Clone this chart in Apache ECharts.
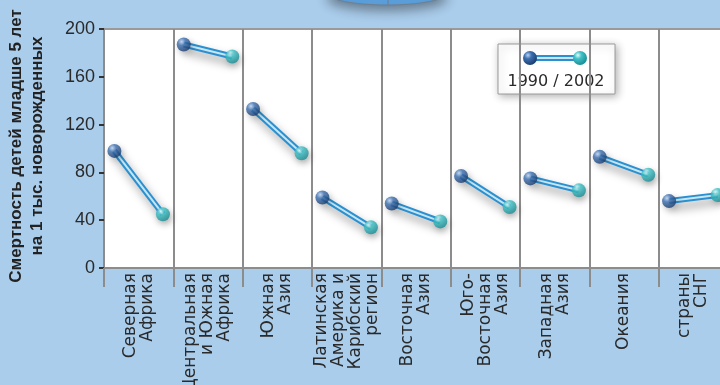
<!DOCTYPE html>
<html>
<head>
<meta charset="utf-8">
<script src="https://cdn.jsdelivr.net/npm/echarts@6/dist/echarts.min.js"></script>
<style>
  html, body { margin: 0; padding: 0; background: #aacdec; }
  #chart { width: 720px; height: 385px; }
</style>
</head>
<body>
<div id="chart"></div>
<script>
// регионы
var categories = [
    'Северная\nАфрика',
    'Центральная\nи Южная\nАфрика',
    'Южная\nАзия',
    'Латинская\nАмерика и\nКарибский\nрегион',
    'Восточная\nАзия',
    'Юго-\nВосточная\nАзия',
    'Западная\nАзия',
    'Океания',
    'страны\nСНГ'
];
// смертность детей младше 5 лет, на 1 тыс. новорожденных
var values1990 = [98, 187, 133, 59, 54, 77, 75, 93, 56];
var values2002 = [45, 177, 96, 34, 39, 51, 65, 78, 61];
var yTicks = [0, 40, 80, 120, 160, 200];

(function(){

    var chart = echarts.init(document.getElementById('chart'));

    var grey = '#8c8c8c';
    var textColor = '#2a2a2a';

    // положение точек внутри столбца региона
    var off1990 = 0.15, off2002 = 0.85;

    var segs = [], pts1990 = [], pts2002 = [];
    for (var i = 0; i < categories.length; i++) {
        segs.push({coords: [[i + off1990, values1990[i]], [i + off2002, values2002[i]]]});
        pts1990.push([i + off1990, values1990[i]]);
        pts2002.push([i + off2002, values2002[i]]);
    }

    var ball1990 = new echarts.graphic.RadialGradient(0.35, 0.3, 0.75, [
        {offset: 0, color: '#b9d3f0'},
        {offset: 0.35, color: '#3d6fb0'},
        {offset: 1, color: '#183a6c'}
    ]);
    var ball2002 = new echarts.graphic.RadialGradient(0.35, 0.3, 0.75, [
        {offset: 0, color: '#e6fbfb'},
        {offset: 0.35, color: '#3fc2c6'},
        {offset: 1, color: '#178a93'}
    ]);

    option = {
        backgroundColor: '#aacdec',
        animation: false,
        grid: {
            left: 104,
            top: 29,
            width: 624,
            height: 239,
            outerBoundsMode: 'none',
            show: true,
            backgroundColor: '#ffffff',
            borderColor: '#9a9a9a',
            borderWidth: 2
        },
        xAxis: [
            {
                type: 'category',
                data: categories,
                boundaryGap: true,
                axisLine: {lineStyle: {color: grey, width: 2}},
                axisTick: {show: true, interval: 0, length: 19, lineStyle: {color: grey, width: 2}},
                splitLine: {show: true, interval: 0, lineStyle: {color: grey, width: 2}},
                axisLabel: {
                    interval: 0,
                    rotate: 90,
                    margin: 5,
                    fontSize: 17,
                    lineHeight: 17,
                    fontFamily: 'DejaVu Sans',
                    color: textColor
                }
            },
            {
                type: 'value',
                min: 0,
                max: categories.length,
                show: false
            }
        ],
        yAxis: {
            type: 'value',
            min: yTicks[0],
            max: yTicks[yTicks.length - 1],
            interval: 40,
            axisLine: {show: true, lineStyle: {color: grey, width: 2}},
            axisTick: {show: true, length: 5, lineStyle: {color: '#333', width: 2}},
            splitLine: {show: false},
            axisLabel: {
                fontSize: 18,
                margin: 9,
                fontFamily: 'Liberation Sans',
                color: textColor
            }
        },
        series: [
            {
                type: 'lines',
                coordinateSystem: 'cartesian2d',
                xAxisIndex: 1,
                data: segs,
                lineStyle: {
                    color: '#2a90d0',
                    width: 6,
                    opacity: 1,
                    shadowColor: 'rgba(0,0,0,0.35)',
                    shadowBlur: 10,
                    shadowOffsetX: 3,
                    shadowOffsetY: 6
                },
                z: 2
            },
            {
                type: 'lines',
                coordinateSystem: 'cartesian2d',
                xAxisIndex: 1,
                data: segs,
                lineStyle: {color: '#c6e6f6', width: 2, opacity: 1},
                z: 3
            },
            {
                type: 'scatter',
                xAxisIndex: 1,
                data: pts1990,
                symbolSize: 14,
                itemStyle: {
                    color: ball1990,
                    shadowColor: 'rgba(0,0,0,0.3)',
                    shadowBlur: 6,
                    shadowOffsetX: 2,
                    shadowOffsetY: 3
                },
                z: 4
            },
            {
                type: 'scatter',
                xAxisIndex: 1,
                data: pts2002,
                symbolSize: 14,
                itemStyle: {
                    color: ball2002,
                    shadowColor: 'rgba(0,0,0,0.3)',
                    shadowBlur: 6,
                    shadowOffsetX: 2,
                    shadowOffsetY: 3
                },
                z: 4
            }
        ],
        graphic: [
            // кусок диска сверху
            {
                type: 'ellipse',
                shape: {cx: 387, cy: -7, rx: 60, ry: 12},
                style: {
                    fill: '#5b9fdc',
                    stroke: '#6f7f8f',
                    lineWidth: 1,
                    shadowColor: 'rgba(0,0,0,0.4)',
                    shadowBlur: 12,
                    shadowOffsetY: 5
                }
            },
            {
                type: 'line',
                shape: {x1: 388, y1: 0, x2: 388, y2: 5},
                style: {stroke: '#6f7f8f', lineWidth: 1}
            },
            // подпись оси
            {
                type: 'text',
                x: 27,
                y: 146,
                rotation: Math.PI / 2,
                style: {
                    text: 'Смертность детей младше 5 лет\nна 1 тыс. новорожденных',
                    font: 'bold 17px "Liberation Sans"',
                    lineHeight: 21,
                    textAlign: 'center',
                    textVerticalAlign: 'middle',
                    fill: '#222'
                }
            },
            // легенда
            {
                type: 'group',
                z: 10,
                children: [
                    {
                        type: 'rect',
                        shape: {x: 498, y: 44, width: 117, height: 50},
                        style: {
                            fill: '#fff',
                            stroke: '#9a9a9a',
                            lineWidth: 1,
                            shadowColor: 'rgba(0,0,0,0.3)',
                            shadowBlur: 8,
                            shadowOffsetX: 2,
                            shadowOffsetY: 2
                        }
                    },
                    {
                        type: 'line',
                        shape: {x1: 530, y1: 58, x2: 580, y2: 58},
                        style: {stroke: '#2a90d0', lineWidth: 6}
                    },
                    {
                        type: 'line',
                        shape: {x1: 530, y1: 58, x2: 580, y2: 58},
                        style: {stroke: '#c6e6f6', lineWidth: 2}
                    },
                    {
                        type: 'circle',
                        shape: {cx: 530, cy: 58, r: 7},
                        style: {fill: ball1990}
                    },
                    {
                        type: 'circle',
                        shape: {cx: 580, cy: 58, r: 7},
                        style: {fill: ball2002}
                    },
                    {
                        type: 'text',
                        x: 556,
                        y: 82,
                        style: {
                            text: '1990 / 2002',
                            font: '16px "DejaVu Sans"',
                            textAlign: 'center',
                            textVerticalAlign: 'middle',
                            fill: '#2a2a2a'
                        }
                    }
                ]
            }
        ]
    };

    chart.setOption(option);
})();
</script>
</body>
</html>
